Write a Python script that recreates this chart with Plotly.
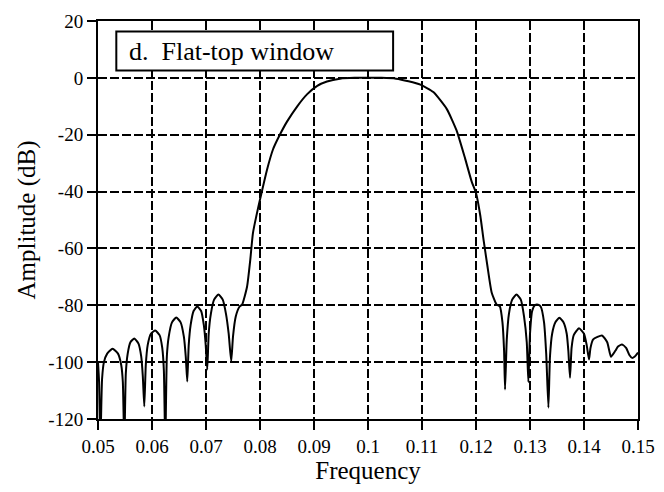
import plotly.graph_objects as go

# Frequency (x) and amplitude in dB (y)
freq = [
    0.0500, 0.0502, 0.05043,
    0.05075, 0.05110, 0.05170, 0.05270, 0.05370, 0.05430, 0.05460, 0.05487,
    0.05515, 0.05550, 0.05600, 0.05672, 0.05750, 0.05800, 0.05830, 0.05857,
    0.05885, 0.05920, 0.05980, 0.06060, 0.06140, 0.06190, 0.06220, 0.06246,
    0.06275, 0.06310, 0.06370, 0.06449, 0.06530, 0.06590, 0.06625, 0.06653,
    0.06680, 0.06715, 0.06770, 0.06838, 0.06910, 0.06960, 0.06995, 0.07023,
    0.07050, 0.07090, 0.07150, 0.07230, 0.07310, 0.07370, 0.07420, 0.07467,
    0.0750, 0.0755, 0.0762, 0.0767, 0.0776, 0.0782, 0.0787, 0.0797, 0.0804,
    0.0813, 0.0824, 0.0836, 0.0850, 0.0869, 0.0887, 0.0906, 0.0924, 0.0948,
    0.0975, 0.1000, 0.1025,
    0.1052, 0.1075, 0.1097, 0.1121, 0.1146, 0.1164, 0.1180, 0.1192, 0.1200,
    0.1208, 0.1214, 0.1221, 0.1229, 0.1238, 0.1244, 0.1249, 0.1252, 0.12538,
    0.1257, 0.1261, 0.1267, 0.1275, 0.1283, 0.1289, 0.1294, 0.1297,
    0.1300, 0.1304, 0.1309, 0.1315, 0.1320, 0.1326, 0.1330, 0.13341,
    0.1337, 0.1341, 0.1347, 0.13544, 0.1362, 0.1368, 0.1371, 0.13741,
    0.1377, 0.1381, 0.13908, 0.1400, 0.1405, 0.14093,
    0.1412, 0.1417, 0.14333, 0.1443, 0.1450,
    0.1458, 0.1463, 0.14704, 0.1478, 0.1484, 0.14889, 0.1494, 0.1500,
]
amp_db = [
    -100, -107, -130,
    -106, -100, -97, -95.3, -97, -101, -107, -130,
    -104, -97, -93, -91.7, -93.5, -98, -105, -115.6,
    -101, -94, -90, -88.9, -90.5, -95, -103, -130,
    -98, -91, -86, -84.3, -86, -91, -98, -106.8,
    -94, -87, -82, -80.4, -82, -87, -94, -102.6,
    -90, -83, -78, -76.2, -78, -83, -90, -99.7,
    -91, -84, -80.5, -79.7, -73.5, -64, -54.5, -45.3, -39.5,
    -32.3, -25.2, -20.3, -15.4, -10, -5.8, -2.8, -1.3, -0.3,
    0, 0, 0,
    -0.3, -1.2, -2.4, -5, -11, -18.5, -28.5, -36.5, -40.5,
    -48.5, -57, -66, -75.5, -79.7, -80.3, -86, -96, -109.6,
    -92, -83, -78, -76.2, -78, -84, -93, -107,
    -90, -82, -80, -79.8, -80.5, -86, -97, -116,
    -98, -90, -86, -84.4, -86, -90, -96, -105.5,
    -95, -90.5, -88.1, -90, -94, -99.1,
    -95, -92, -90.6, -93, -98.1,
    -96, -94.5, -93.8, -95, -97.5, -98.5, -98, -96.6,
]

x_ticks = [0.05, 0.06, 0.07, 0.08, 0.09, 0.10, 0.11, 0.12, 0.13, 0.14, 0.15]
x_tick_labels = ["0.05", "0.06", "0.07", "0.08", "0.09", "0.1", "0.11", "0.12", "0.13", "0.14", "0.15"]
y_ticks = [20, 0, -20, -40, -60, -80, -100, -120]
y_tick_labels = ["20", "0", "-20", "-40", "-60", "-80", "-100", "-120"]

FONT = "Liberation Serif, Times New Roman, serif"

fig = go.Figure()
fig.add_trace(go.Scatter(
    x=freq, y=amp_db, mode="lines",
    line=dict(color="black", width=2, shape="spline", smoothing=0.5),
    showlegend=False, hoverinfo="skip",
))

axis_common = dict(
    showline=True, linecolor="black", linewidth=2, mirror=True,
    ticks="outside", ticklen=9, tickwidth=2, tickcolor="black",
    showgrid=True, gridcolor="black", gridwidth=1.5, griddash="9px,3px",
    zeroline=False,
    tickfont=dict(family=FONT, size=19, color="black"),
)

fig.update_xaxes(
    range=[0.05, 0.15], tickvals=x_ticks, ticktext=x_tick_labels,
    title=dict(text="Frequency", font=dict(family=FONT, size=25, color="black"), standoff=4),
    **axis_common,
)
fig.update_yaxes(
    range=[-120, 20], tickvals=y_ticks, ticktext=y_tick_labels,
    title=dict(text="Amplitude (dB)", font=dict(family=FONT, size=25, color="black"), standoff=6),
    **axis_common,
)

# label box
fig.add_shape(
    type="rect", xref="x", yref="y",
    x0=0.05339, x1=0.10465, y0=2.6, y1=16.3,
    fillcolor="white", line=dict(color="black", width=2), layer="above",
)
fig.add_annotation(
    x=0.0554, y=9.4, xref="x", yref="y", xanchor="left", yanchor="middle",
    text="d.\u00a0 Flat-top window", showarrow=False,
    font=dict(family=FONT, size=26, color="black"),
)

fig.update_layout(
    width=656, height=484,
    margin=dict(l=90, r=26, t=13, b=73, autoexpand=False),
    paper_bgcolor="white", plot_bgcolor="white",
    font=dict(family=FONT, color="black"),
)

fig.write_html("out.html")
